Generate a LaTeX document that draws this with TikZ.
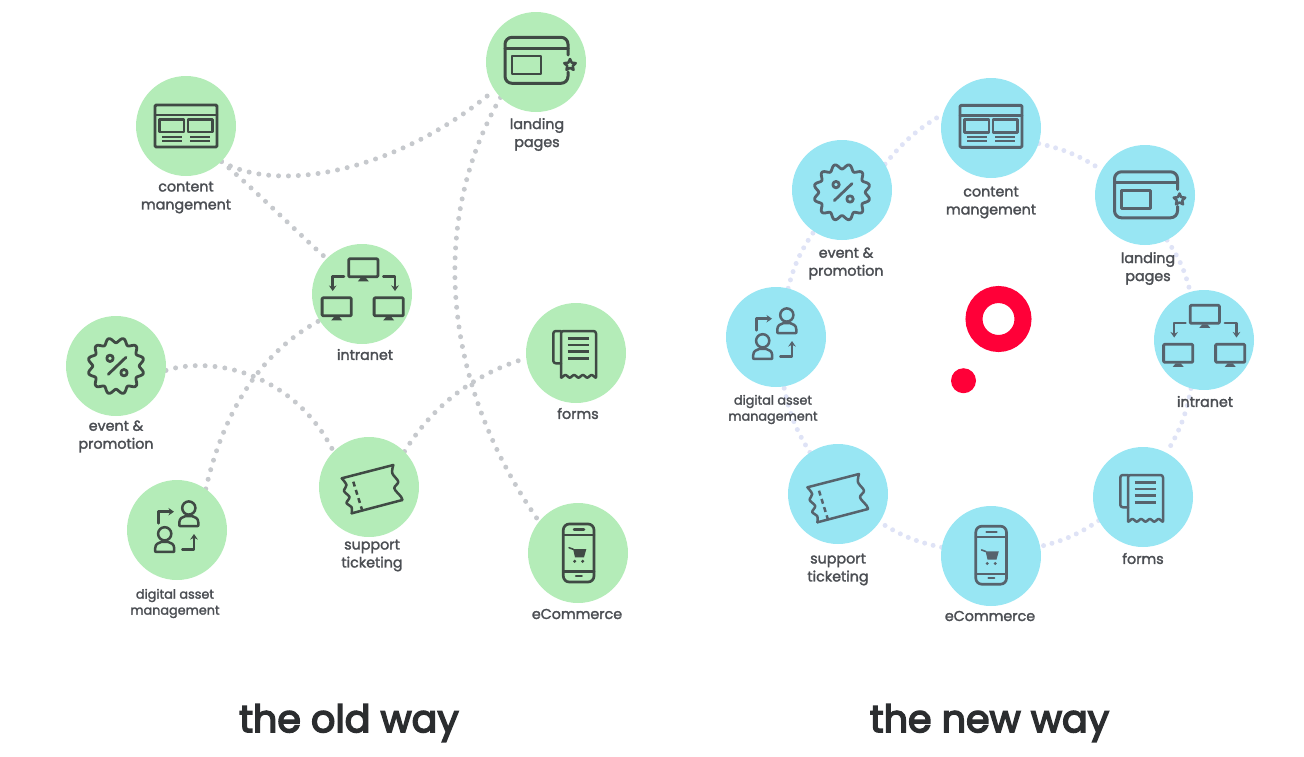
\documentclass[tikz,border=0pt]{standalone}
\usepackage{fontspec}
\setmainfont{Poppins}
\newfontfamily\labf{Poppins}[FakeBold=2]
\newfontfamily\titf{Poppins}[FakeBold=4]
\usetikzlibrary{backgrounds,arrows.meta}
\definecolor{hubgreen}{HTML}{B4ECB8}
\definecolor{hubblue}{HTML}{98E6F3}
\definecolor{inkgreen}{HTML}{3F4A44}
\definecolor{inkblue}{HTML}{56636D}
\definecolor{labelc}{HTML}{4B4E53}
\definecolor{titlec}{HTML}{2B2D2F}
\definecolor{dotgrey}{HTML}{C6C9CD}
\definecolor{dotlav}{HTML}{DFE3F6}
\definecolor{brandred}{HTML}{FF0038}
\tikzset{
  hubold/.style={circle,fill=hubgreen,minimum size=100pt,inner sep=0pt},
  hubnew/.style={circle,fill=hubblue,minimum size=100pt,inner sep=0pt},
  lab/.style={font=\labf\fontsize{14.3}{18}\selectfont,text=labelc,align=center,inner sep=0pt},
  labsm/.style={font=\labf\fontsize{12.8}{16}\selectfont,text=labelc,align=center,inner sep=0pt},
  ttl/.style={font=\titf\fontsize{38}{40}\selectfont,text=titlec,inner sep=0pt},
  dotold/.style={draw=dotgrey,line width=5pt,line cap=round,dash pattern=on 0pt off 9.9pt},
  dotnew/.style={draw=dotlav,line width=5pt,line cap=round,dash pattern=on 0pt off 8.7pt},
  ic/.style={draw=ink,line width=2.5pt,line join=round,line cap=round},
  ict/.style={draw=ink,line width=3pt,line join=round,line cap=round},
  arr/.style={ic,-{Stealth[length=5.5pt,width=7.5pt]}}
}
\newcommand\iconContent[2]{\begin{scope}[shift={(#1,#2)}]
 \draw[ic,rounded corners=1.2pt,line width=2.9pt] (-31,-21) rectangle (31,21);
 \draw[ic] (-31,-11) -- (31,-11);
 \draw[ic] (-26.7,-6.7) rectangle (-2,6);
 \draw[ic] (2,-6.7) rectangle (26.7,6);
 \draw[ic,line cap=butt,line width=2.2pt] (-24,10.7) -- (-4,10.7) (-24,15) -- (-4,15) (4,10.7) -- (24,10.7) (4,15) -- (24,15);
\end{scope}}
\newcommand\iconLanding[2]{\begin{scope}[shift={(#1,#2)}]
 \draw[ict,rounded corners=7pt] (32,-7) -- (32,-24.7) -- (-31,-24.7) -- (-31,21.3) -- (32,21.3) -- (32,10);
 \draw[ict] (-31,-13.7) -- (32,-13.7);
 \draw[ict,line width=2.7pt] (-24,-6) rectangle (5,12);
 \begin{scope}[shift={(34,3)}]
 \draw[ic] (-90:6) -- (-54:2.9) -- (-18:6) -- (18:2.9) -- (54:6) -- (90:2.9) -- (126:6) -- (162:2.9) -- (198:6) -- (234:2.9) -- cycle;
 \end{scope}
\end{scope}}
\newcommand\monitor[3]{\begin{scope}[shift={(#1,#2)}]
 \draw[ic,line width=2.8pt,rounded corners=1pt] (-14.6,-9) rectangle (14.6,9);
 \fill[ink] (-2.5,10) -- (2.5,10) -- (5.5,13.6) -- (-5.5,13.6) -- cycle;
\end{scope}}
\newcommand\iconIntranet[2]{\begin{scope}[shift={(#1,#2)}]
 \monitor{1.3}{-26.2}{}
 \monitor{-25.3}{12.8}{}
 \monitor{26.7}{12.8}{}
 \draw[arr] (-18,-17.3) -- (-29.3,-17.3) -- (-29.3,-3);
 \draw[arr] (21.3,-17.3) -- (33,-17.3) -- (33,-3);
\end{scope}}
\newcommand\iconEvent[2]{\begin{scope}[shift={(#1,#2)}]
 \draw[ict,line width=2.8pt] plot[domain=0:360,samples=145,smooth] (\x:{25.8+2.5*cos(12*(\x-15))}) -- cycle;
 \draw[ic,line width=2.8pt] (-6,-7.7) circle (3.2);
 \draw[ic,line width=2.8pt] (8,6.7) circle (3.2);
 \draw[ic,line width=2.8pt] (-7.7,8.3) -- (10,-8.7);
\end{scope}}
\newcommand\person[2]{\begin{scope}[shift={(#1,#2)}]
 \draw[ic] (0,-9) circle (6.6);
 \draw[ic,rounded corners=0.5pt] (-9.5,9) -- (-9.5,6) .. controls (-9.5,1) and (-6,0) .. (-3,-1) -- (3,-1) .. controls (6,0) and (9.5,1) .. (9.5,6) -- (9.5,9) -- cycle;
\end{scope}}
\newcommand\iconDigital[2]{\begin{scope}[shift={(#1,#2)}]
 \person{11.8}{-13}
 \person{-12.3}{12.8}
 \draw[arr] (-18.7,-6.7) -- (-18.7,-18.3) -- (-3,-18.3);
 \draw[arr] (5.3,19.3) -- (17,19.3) -- (17,4);
\end{scope}}
\newcommand\iconSupport[2]{\begin{scope}[shift={(#1,#2)}]
 \draw[ic,rounded corners=0.4pt] (-27.3,-8.7) -- (24.3,-22);
 \draw[ic] (-17.3,26.3) -- (33.3,13);
 \draw[ic] plot[smooth,tension=.55] coordinates {(-27.3,-8.7) (-22.5,-2) (-25,4) (-19.5,10) (-22.5,16) (-17.5,20) (-17.3,26.3)};
 \draw[ic] plot[smooth,tension=.55] coordinates {(24.3,-22) (23.3,-13.7) (29.3,-5.3) (25.3,1.3) (32,9.7) (33.3,13)};
 \draw[ic,line cap=butt,dash pattern=on 5pt off 3.6pt] (-15.7,-5.3) -- (-6.7,23.7);
\end{scope}}
\newcommand\iconForms[2]{\begin{scope}[shift={(#1,#2)}]
 \draw[ic,rounded corners=2.5pt] (-15,24.3) -- (-15,-22) -- (20,-22) -- (20,24.3);
 \draw[ic,rounded corners=2.5pt] (-15,10.3) -- (-22.7,10.3) -- (-22.7,-22) -- (-15,-22);
 \draw[ic] plot[domain=-15:20,samples=57,smooth] (\x,{23.3+1.3*cos(41.143*(\x+15))});
 \draw[ic,line cap=butt] (-8.3,-14.7) -- (13.3,-14.7) (-8.3,-8) -- (13.3,-8) (-8.3,-1.3) -- (13.3,-1.3) (-8.3,5.3) -- (13.3,5.3);
\end{scope}}
\newcommand\iconEcom[2]{\begin{scope}[shift={(#1,#2)}]
 \draw[ic,line width=2.7pt,rounded corners=6pt] (-14.7,-29) rectangle (16,29);
 \draw[ic] (-14.7,-18) -- (16,-18) (-14.7,18.7) -- (16,18.7);
 \draw[ic] (-4,-23.3) -- (6,-23.3) (-2,23) -- (3.7,23);
 \draw[ic,line width=1.6pt] (-9,-5.3) -- (-4.7,-3.7);
 \fill[ink] (-4.9,-3.9) -- (8.3,-3.9) -- (6,4.3) -- (-3,4.3) -- cycle;
 \fill[ink] (-3.3,8.3) circle (1.7) (4.7,8.3) circle (1.7);
\end{scope}}
\begin{document}
\begin{tikzpicture}[x=1pt,y=-1pt]
\useasboundingbox (0,0) rectangle (1304,756);
% ---------- the old way
\colorlet{ink}{inkgreen}
\node[hubold] (oc) at (186,126) {}; \iconContent{186}{126}
\node[hubold] (ol) at (536,62) {}; \iconLanding{536}{62}
\node[hubold] (oi) at (362,294) {}; \iconIntranet{362}{294}
\node[hubold] (oe) at (116,366) {}; \iconEvent{116}{366}
\node[hubold] (of) at (576,353) {}; \iconForms{576}{353}
\node[hubold] (os) at (369,487) {}; \iconSupport{369}{487}
\node[hubold] (od) at (177,530) {}; \iconDigital{177}{530}
\node[hubold] (om) at (578,553) {}; \iconEcom{578}{553}
\node[lab] (loc) at (186,197.5) {content\\mangement};
\node[lab] (lol) at (537,134.5) {landing\\pages};
\node[lab] (loi) at (365,354.5) {intranet};
\node[lab] (loe) at (116,436.5) {event \&\\promotion};
\node[lab] (lof) at (578,413.5) {forms};
\node[lab] (los) at (372,555.5) {support\\ticketing};
\node[labsm] (lod) at (175,603.5) {digital asset\\management};
\node[lab] (lom) at (577,614) {eCommerce};
\begin{pgfonlayer}{background}
\draw[dotold] (oc.-45) .. controls (280,195) and (400,170) .. (ol.-146);
\draw[dotold] (oc.-45) .. controls (255,190) and (300,235) .. (oi.135);
\draw[dotold] (oe.-5) .. controls (215,355) and (295,375) .. (os.135);
\draw[dotold] (od.55) .. controls (225,405) and (265,350) .. (oi.212);
\draw[dotold] (os.45) .. controls (430,410) and (470,375) .. (of.186);
\draw[dotold] (ol.-135) .. controls (430,220) and (440,380) .. (om.141);
\end{pgfonlayer}
% ---------- the new way
\colorlet{ink}{inkblue}
\node[hubnew] (nc) at (991,128) {}; \iconContent{991}{126.3}
\node[hubnew] (nl) at (1145,195) {}; \iconLanding{1145.5}{196.5}
\node[hubnew] (ne) at (842,190) {}; \iconEvent{842}{192.3}
\node[hubnew] (ni) at (1204,340) {}; \iconIntranet{1203.5}{340.5}
\node[hubnew] (nd) at (776,337) {}; \iconDigital{775}{337}
\node[hubnew] (nf) at (1143,497) {}; \iconForms{1143}{497}
\node[hubnew] (ns) at (838,494) {}; \iconSupport{834.7}{496}
\node[hubnew] (nm) at (991,556) {}; \iconEcom{990.5}{555.2}
\node[lab] (lnc) at (991,202.5) {content\\mangement};
\node[lab] (lnl) at (1148,268.5) {landing\\pages};
\node[lab] (lne) at (846,263.5) {event \&\\promotion};
\node[labsm] (lnd) at (773,409.5) {digital asset\\management};
\node[lab] (lni) at (1205,401.5) {intranet};
\node[lab] (lnf) at (1143,558.5) {forms};
\node[lab] (lns) at (838,569.5) {support\\ticketing};
\node[lab] (lnm) at (990,616) {eCommerce};
\begin{pgfonlayer}{background}
\draw[dotnew] (ne.31) to[bend left=10] (nc.164);
\draw[dotnew] (nc.-18) to[bend left=10] (nl.150);
\draw[dotnew] (nl.-64) to[bend left=10] (ni.106);
\draw[dotnew] (ni.-105) to[bend left=10] (nf.62);
\draw[dotnew] (nf.208) to[bend left=10] (nm.11);
\draw[dotnew] (nm.170) to[bend left=10] (ns.-34);
\draw[dotnew] (ns.124) to[bend left=10] (nd.-81);
\draw[dotnew] (nd.76) to[bend left=10] (ne.236);
\end{pgfonlayer}
% ---------- brand mark
\node[circle,draw=brandred,line width=17pt,minimum size=49pt,inner sep=0pt] (ring) at (998.5,319) {};
\node[circle,fill=brandred,minimum size=25pt,inner sep=0pt] (dot) at (963.5,380.7) {};
% ---------- titles
\node[ttl] (told) at (349,723) {the old way};
\node[ttl] (tnew) at (989.5,723) {the new way};
\end{tikzpicture}
\end{document}
